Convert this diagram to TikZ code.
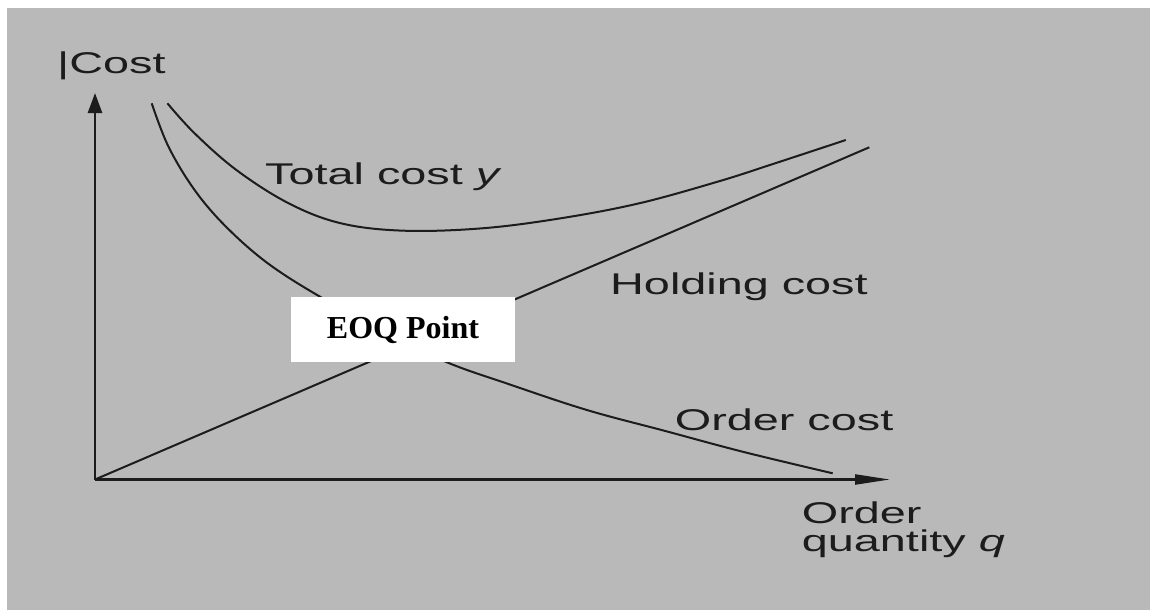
\documentclass[tikz,border=0pt]{standalone}
\usepackage{fontspec}
\setmainfont{Liberation Sans}
\newfontfamily\eoqfont{Liberation Serif}
\usetikzlibrary{arrows.meta}
\definecolor{panel}{RGB}{185,185,185}
\definecolor{ink}{RGB}{28,28,28}
\tikzset{
  lbl/.style={anchor=base west, inner sep=0pt, text=ink, font=\fontsize{30}{30}\selectfont},
  curve/.style={draw=ink, line width=2pt, line join=round},
  axis/.style={draw=ink, line width=2.6pt},
  eoqbox/.style={fill=white, minimum width=224pt, minimum height=65pt, inner sep=0pt,
    font=\eoqfont\bfseries\fontsize{32}{32}\selectfont},
}
% sans labels are set wide
\newcommand{\wide}[1]{\scalebox{1.56}[1]{#1}}

\begin{document}
\begin{tikzpicture}[x=1pt,y=-1pt]
\useasboundingbox (0,0) rectangle (1150,610);
\fill[white] (0,0) rectangle (1150,610);
\fill[panel] (7,8) rectangle (1150,610);

% axes
\coordinate (O) at (95,479.5);
\coordinate (ytip) at (95,93);
\coordinate (xtip) at (890,479.5);
\draw[axis, -{Triangle[length=20pt,width=14pt]}] (O) -- (ytip);
\draw[axis, line width=2.2pt, -{Triangle[length=35pt,width=10pt]}] (O) -- (xtip);

% holding cost (linear)
\coordinate (hEnd) at (869.3,147.3);
\draw[curve] (O) -- (hEnd);

% order cost
\draw[curve] plot[smooth, tension=0.6] coordinates {
  (151.7,103.3) (168.5,146.7) (194.6,190) (226,226.7) (267.8,263.3)
  (320,296.7) (383,331) (445.6,361.7) (508.4,384) (586.9,410)
  (665.3,431) (743.8,452) (832.7,473.3)};

% total cost
\draw[curve] plot[smooth, tension=0.6] coordinates {
  (167.4,103.3) (194.6,133.3) (236.4,170) (288.7,203.3) (341,223.3)
  (403.8,230.7) (482.3,228.3) (560.7,218.3) (639.2,203.3) (717.6,181.7)
  (769.9,165) (845.8,140)};

% labels
\node[lbl] (costlbl) at (57,73.3) {\wide{|Cost}};
\node[lbl] (totallbl) at (265,184) {\wide{Total cost \textit{y}}};
\node[lbl] (holdlbl) at (610,294.3) {\wide{Holding cost}};
\node[lbl] (orderlbl) at (674.7,430.7) {\wide{Order cost}};
\node[lbl] (qlblA) at (801.7,523) {\wide{Order}};
\node[lbl] (qlblB) at (801.7,551) {\wide{quantity \textit{q}}};

% EOQ marker box
\node[eoqbox] (eoq) at (403,329.5) {EOQ Point};
\end{tikzpicture}
\end{document}
